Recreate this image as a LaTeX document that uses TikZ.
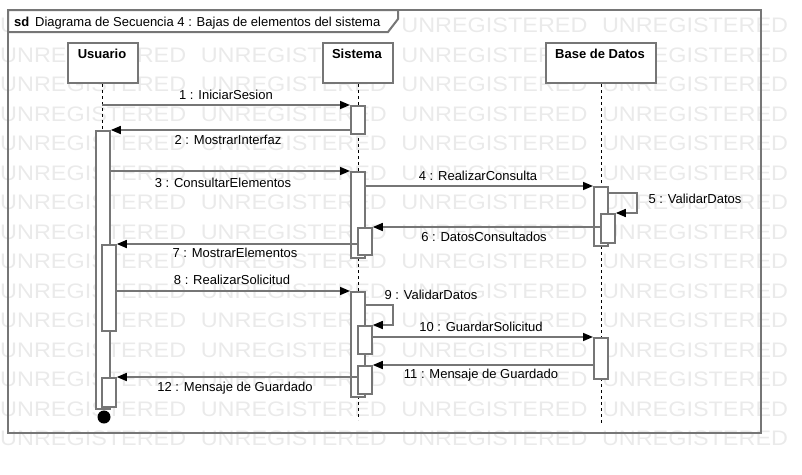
\documentclass[tikz,border=0pt]{standalone}
\usepackage{fontspec}
\setmainfont{Liberation Sans}
\usetikzlibrary{arrows.meta,calc}
\definecolor{lc}{RGB}{118,118,118}
\definecolor{wmc}{RGB}{234,234,234}
\newcommand\actbar[4]{\node[actbox,minimum height=#4pt] (#1) at (#2,#3) {};}
\begin{document}
\begin{tikzpicture}[x=1pt,y=-1pt,
  wmark/.style={anchor=base west, inner sep=0pt, text=wmc, font=\fontsize{21}{21}\selectfont},
  frameline/.style={draw=lc, line width=2pt, line join=miter},
  headbox/.style={draw=lc, line width=2pt, fill=white, minimum height=40pt, anchor=north west, inner sep=0pt},
  headtxt/.style={anchor=base, inner sep=0pt, font=\fontsize{13}{15}\selectfont\bfseries},
  lifeline/.style={draw=black, line width=1pt, dash pattern=on 3pt off 3pt},
  actbox/.style={draw=lc, line width=1.8pt, fill=white, minimum width=14pt, inner sep=0pt, anchor=north west},
  msg/.style={draw=lc, line width=1.6pt, -{Triangle[length=10pt,width=8pt,color=black]}},
  lbl/.style={anchor=base, inner sep=0pt, font=\fontsize{13}{15}\selectfont}
]
\useasboundingbox (0,0) rectangle (802,474);
% watermark
\foreach \k in {0,...,14}{
  \foreach \j in {0,...,4}{
    \node[wmark] (w\k-\j) at ({200.6*\j},{32.5+29.5*\k}) {\scalebox{1.115}[1]{UNREGISTERED}};
  }
}
% frame
\draw[frameline] (8,10) rectangle (761,433);
\draw[frameline, fill=white] (8,10) -- (398,10) -- (398,19) -- (388,32) -- (8,32) -- cycle;
\node[anchor=base west, inner sep=0pt, font=\fontsize{13}{15}\selectfont] (title) at (14,26.2) {\textbf{sd}\, Diagrama de Secuencia 4 : Bajas de elementos del sistema};
% heads
\node[headbox, minimum width=70pt] (hu) at (67,42) {};
\node[headbox, minimum width=70pt] (hs) at (322,42) {};
\node[headbox, minimum width=110pt] (hb) at (545,42) {};
\node[headtxt] (tu) at (102,58.6) {Usuario};
\node[headtxt] (ts) at (357,58.6) {Sistema};
\node[headtxt] (tb) at (600,58.6) {Base de Datos};
% lifelines
\coordinate (eu) at (102,130);
\coordinate (es) at (358,420);
\coordinate (eb) at (601,425);
\draw[lifeline] (hu.south -| eu) -- (eu);
\draw[lifeline] (hs.south -| es) -- (es);
\draw[lifeline] (hb.south -| eb) -- (eb);
% activations
\actbar{ub}{95}{130}{278}
\actbar{u7}{101}{244}{86}
\actbar{u12}{101}{377}{29}
\actbar{s1}{350}{105}{28}
\actbar{s2}{350}{171}{86}
\actbar{s6}{357}{227}{27}
\actbar{s3}{350}{291}{105}
\actbar{s9}{357}{325}{28}
\actbar{s11}{357}{365}{28}
\actbar{b4}{593}{186}{59}
\actbar{b5}{600}{213}{29}
\actbar{b10}{593}{337}{41}
% destroy
\fill[black] (104,417) circle (6.5);
% messages
\coordinate (m1) at (102,105);
\draw[msg] (m1) -- (s1.north west);
\draw[msg] (s1.west |- ub.north) -- (ub.north east);
\draw[msg] (ub.east |- s2.north) -- (s2.north west);
\draw[msg] (s2.east |- b4.north) -- (b4.north west);
\coordinate (r5a) at (637,193);
\draw[msg] (b4.east |- r5a) -- (r5a) -- (r5a |- b5.north) -- (b5.north east);
\draw[msg] (b5.west |- s6.north) -- (s6.north east);
\draw[msg] (s6.west |- u7.north) -- (u7.north east);
\draw[msg] (u7.east |- s3.north) -- (s3.north west);
\coordinate (r9a) at (393,305);
\draw[msg] (s3.east |- r9a) -- (r9a) -- (r9a |- s9.north) -- (s9.north east);
\draw[msg] (s9.east |- b10.north) -- (b10.north west);
\draw[msg] (b10.west |- s11.north) -- (s11.north east);
\draw[msg] (s11.west |- u12.north) -- (u12.north east);
% labels
\node[lbl] (l1) at (226,99.6) {1 : IniciarSesion};
\node[lbl] (l2) at (228,144.6) {2 : MostrarInterfaz};
\node[lbl] (l3) at (223,187.6) {3 : ConsultarElementos};
\node[lbl] (l4) at (478,180.6) {4 : RealizarConsulta};
\node[lbl] (l5) at (695,203.6) {5 : ValidarDatos};
\node[lbl] (l6) at (484,241.6) {6 : DatosConsultados};
\node[lbl] (l7) at (235,257.6) {7 : MostrarElementos};
\node[lbl] (l8) at (232,284.6) {8 : RealizarSolicitud};
\node[lbl] (l9) at (431,299.6) {9 : ValidarDatos};
\node[lbl] (l10) at (481,331.6) {10 : GuardarSolicitud};
\node[lbl] (l11) at (481,378.6) {11 : Mensaje de Guardado};
\node[lbl] (l12) at (235,391.6) {12 : Mensaje de Guardado};
\end{tikzpicture}
\end{document}
